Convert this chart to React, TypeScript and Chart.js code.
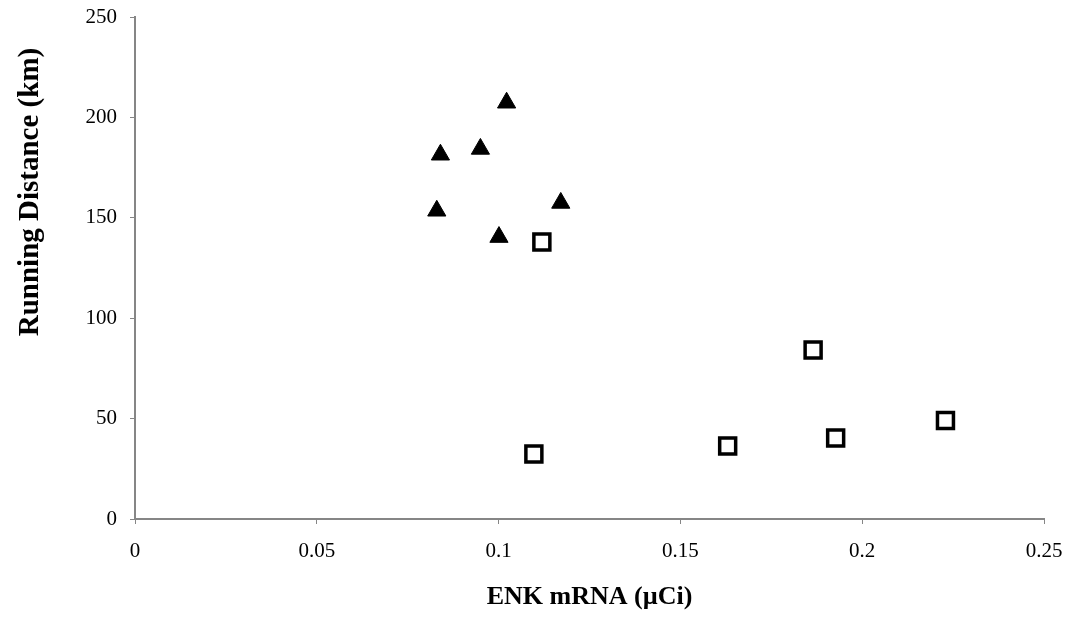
import React, { useEffect, useRef } from "react";
import { Chart, registerables } from "chart.js";

Chart.register(...registerables);

const triangleX = [0.1022, 0.084, 0.095, 0.083, 0.1001, 0.1171];
const triangleY = [207.3, 181.4, 184.3, 153.5, 140.4, 157.4];
const squareX = [0.1119, 0.1865, 0.1927, 0.2229, 0.1097, 0.163];
const squareY = [137.9, 84.2, 40.3, 49.1, 32.4, 36.4];
const xTicks = [0, 0.05, 0.1, 0.15, 0.2, 0.25];
const xTickLabels = ["0", "0.05", "0.1", "0.15", "0.2", "0.25"];
const yTicks = [0, 50, 100, 150, 200, 250];
const yTickLabels = ["0", "50", "100", "150", "200", "250"];
const xTitle = "ENK mRNA (µCi)";
const yTitle = "Running Distance (km)";

const serif = "'Liberation Serif', 'Times New Roman', serif";

const yTitlePlugin = {
  id: "yTitlePlugin",
  afterDraw(chart: any) {
    const ctx = chart.ctx;
    ctx.save();
    ctx.translate(31, 192);
    ctx.rotate(-Math.PI / 2);
    ctx.font = `bold 29px ${serif}`;
    ctx.fillStyle = "#000";
    ctx.textAlign = "center";
    ctx.textBaseline = "middle";
    ctx.fillText(yTitle, 0, 0);
    ctx.restore();
  },
};

export default function App() {
  const ref = useRef<HTMLCanvasElement | null>(null);
  useEffect(() => {
    if (!ref.current) return;
    const chart = new Chart(ref.current, {
      type: "scatter",
      data: {
        datasets: [
          {
            label: "Triangles",
            data: triangleX.map((x, i) => ({ x, y: triangleY[i] })),
            pointStyle: "triangle",
            pointRadius: 10.5,
            pointHoverRadius: 10.5,
            backgroundColor: "#000",
            borderColor: "#000",
            borderWidth: 1,
          },
          {
            label: "Squares",
            data: squareX.map((x, i) => ({ x, y: squareY[i] })),
            pointStyle: "rect",
            pointRadius: 11.3,
            pointHoverRadius: 11.3,
            backgroundColor: "#fff",
            borderColor: "#000",
            borderWidth: 3.5,
          },
        ],
      },
      options: {
        responsive: false,
        animation: false,
        layout: { padding: { top: 17, right: 28, left: 0, bottom: 0 } },
        plugins: { legend: { display: false }, tooltip: { enabled: false } },
        scales: {
          x: {
            type: "linear",
            min: 0,
            max: 0.25,
            afterFit: (s: any) => {
              s.height = 100;
              s.paddingLeft = 0;
              s.paddingRight = 0;
            },
            afterBuildTicks: (s: any) => {
              s.ticks = xTicks.map((v) => ({ value: v }));
            },
            ticks: {
              color: "#000",
              font: { family: serif, size: 21 },
              padding: 15,
              maxRotation: 0,
              callback: (v: any) => {
                const i = xTicks.findIndex((t) => Math.abs(t - v) < 1e-9);
                return i >= 0 ? xTickLabels[i] : "";
              },
            },
            grid: {
              drawOnChartArea: false,
              drawTicks: true,
              tickLength: 5,
              color: "#868686",
            },
            border: { color: "#868686", width: 2 },
            title: {
              display: true,
              text: xTitle,
              color: "#000",
              font: { family: serif, size: 26, weight: "bold" },
              padding: { top: 0, bottom: 6 },
            },
          },
          y: {
            type: "linear",
            min: 0,
            max: 250,
            afterFit: (s: any) => {
              s.width = 135;
              s.paddingTop = 0;
              s.paddingBottom = 0;
            },
            afterBuildTicks: (s: any) => {
              s.ticks = yTicks.map((v) => ({ value: v }));
            },
            ticks: {
              color: "#000",
              font: { family: serif, size: 21 },
              padding: 13,
              callback: (v: any) => {
                const i = yTicks.indexOf(v);
                return i >= 0 ? yTickLabels[i] : "";
              },
            },
            grid: {
              drawOnChartArea: false,
              drawTicks: true,
              tickLength: 5,
              color: "#868686",
            },
            border: { color: "#868686", width: 2 },
          },
        },
      },
      plugins: [yTitlePlugin],
    } as any);
    return () => chart.destroy();
  }, []);
  return (
    <div style={{ position: "absolute", left: 0, top: 0, width: 1072, height: 619, background: "#fff" }}>
      <canvas ref={ref} width={1072} height={619} />
    </div>
  );
}
